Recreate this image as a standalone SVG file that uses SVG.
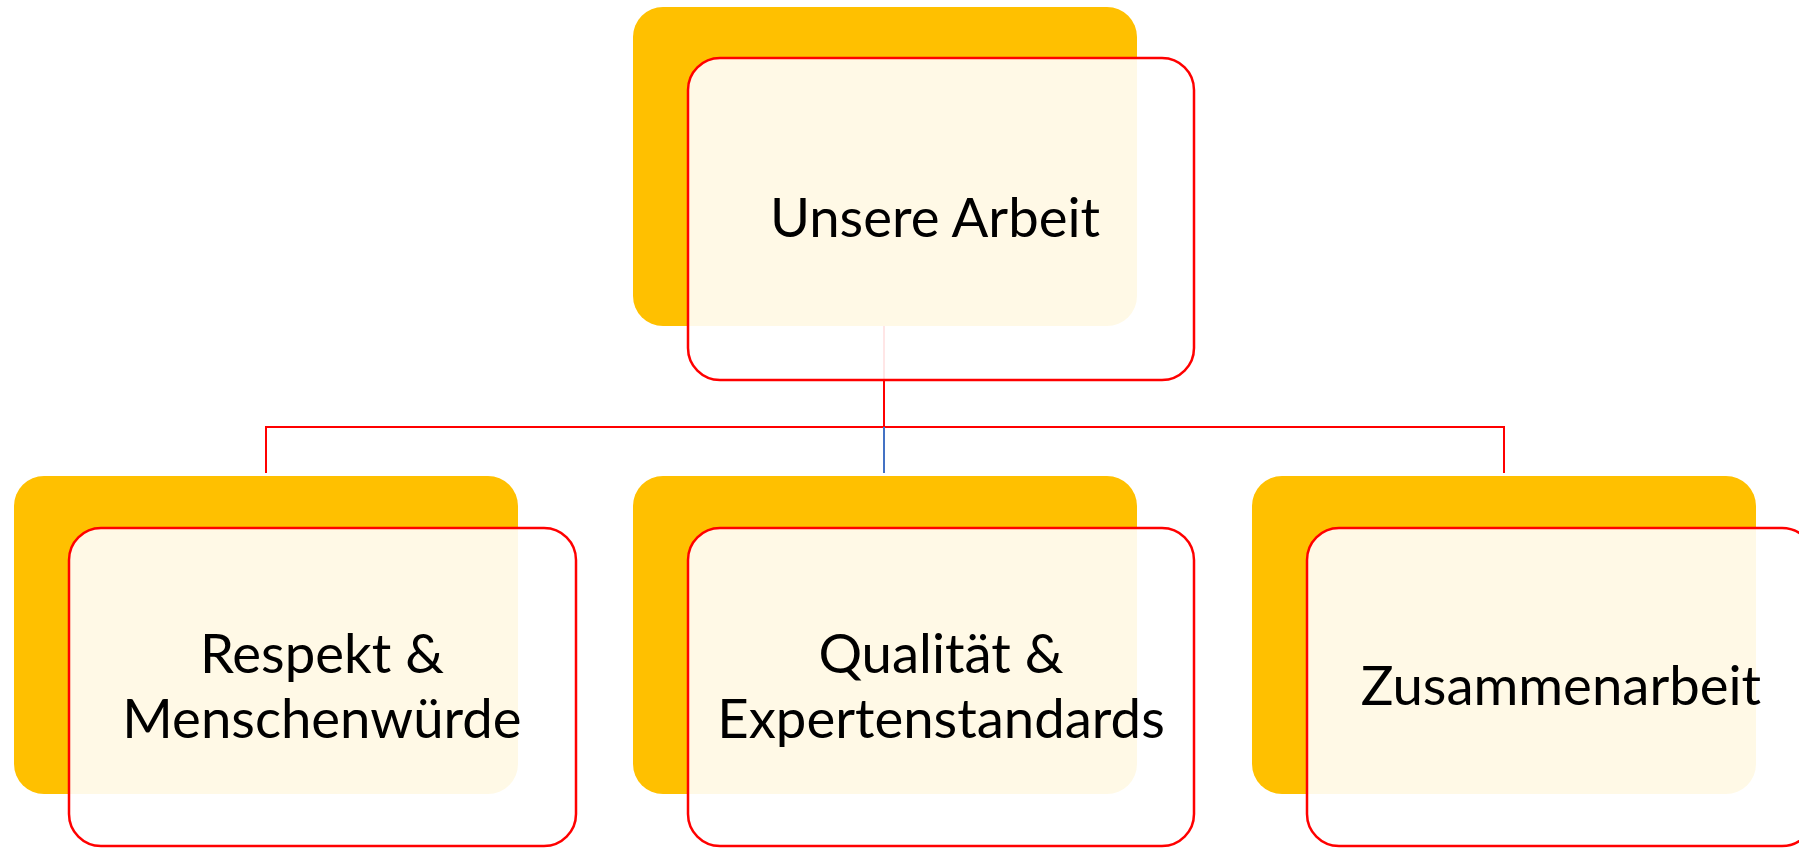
<svg xmlns="http://www.w3.org/2000/svg" width="1799" height="848" viewBox="0 0 1799 848">
<style>
.back{fill:#FFC000}
.front{fill:#FFFFFF;fill-opacity:0.9;stroke:#FF0000;stroke-width:2.5}
.lbl{font-family:Lato,"Open Sans",sans-serif;font-size:54.5px;fill:#000000;text-anchor:middle}
.conn{fill:none;stroke:#FF0000;stroke-width:2}
</style>
<rect width="1799" height="848" fill="#FFFFFF"/>
<g id="connectors">
<path class="conn" d="M884 326 V427 M266 473 V427 H1504 V473"/>
<path d="M884 427 V473" fill="none" stroke="#4472C4" stroke-width="2"/>
</g>
<g id="node-unsere-arbeit">
<rect class="back" x="633" y="7" width="504" height="319" rx="30" ry="30"/>
<rect class="front" x="688" y="58" width="506" height="322" rx="32" ry="32"/>
<text class="lbl" x="935" y="237">Unsere Arbeit</text>
</g>
<g id="node-respekt">
<rect class="back" x="14" y="476" width="504" height="318" rx="30" ry="30"/>
<rect class="front" x="69" y="528" width="507" height="318" rx="32" ry="32"/>
<text class="lbl" x="322" y="673">Respekt &amp;</text>
<text class="lbl" x="322" y="738">Menschenwürde</text>
</g>
<g id="node-qualitaet">
<rect class="back" x="633" y="476" width="504" height="318" rx="30" ry="30"/>
<rect class="front" x="688" y="528" width="506" height="318" rx="32" ry="32"/>
<text class="lbl" x="941" y="673">Qualität &amp;</text>
<text class="lbl" x="941" y="738">Expertenstandards</text>
</g>
<g id="node-zusammenarbeit">
<rect class="back" x="1252" y="476" width="504" height="318" rx="30" ry="30"/>
<rect class="front" x="1307" y="528" width="507" height="318" rx="32" ry="32"/>
<text class="lbl" x="1561" y="705">Zusammenarbeit</text>
</g>
</svg>
